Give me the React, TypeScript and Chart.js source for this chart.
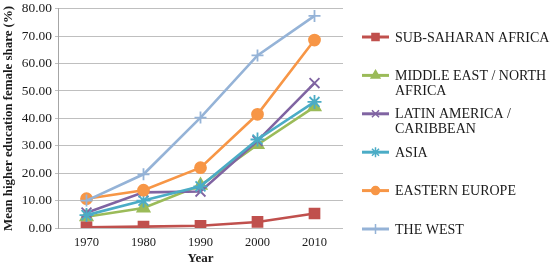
import React, { useEffect, useRef } from "react";
import { Chart, registerables } from "chart.js";
import { drawPoint } from "chart.js/helpers";

Chart.register(...registerables);

const YEARS = ["1970", "1980", "1990", "2000", "2010"];
const SUB_SAHARAN = [0.3, 0.5, 0.8, 2.2, 5.3];
const MIDDLE_EAST = [4.1, 7.3, 15.6, 30.4, 44.2];
const LATIN_AMERICA = [5.6, 13.0, 13.3, 31.8, 52.9];
const ASIA = [4.7, 10.0, 15.2, 32.3, 46.0];
const EASTERN_EUROPE = [10.7, 13.8, 22.0, 41.5, 68.6];
const THE_WEST = [10.0, 19.6, 40.3, 63.0, 77.4];

const SERIES_NAMES = [
  "SUB-SAHARAN AFRICA",
  "MIDDLE EAST / NORTH AFRICA",
  "LATIN AMERICA / CARIBBEAN",
  "ASIA",
  "EASTERN EUROPE",
  "THE WEST",
];
const SERIES_VALUES = [SUB_SAHARAN, MIDDLE_EAST, LATIN_AMERICA, ASIA, EASTERN_EUROPE, THE_WEST];
const SERIES_COLORS = ["#C0504D", "#9BBB59", "#8064A2", "#4BACC6", "#F79646", "#95B3D7"];
const POINT_STYLES = ["rect", "triangle", "crossRot", "star", "circle", "cross"];
const POINT_RADII = [7, 7, 7, 7, 5.5, 6];
const LEGEND_RADII = [5, 5, 5, 5, 4, 5];

const Y_TITLE = "Mean higher education female share (%)";
const X_TITLE = "Year";

const FONT = "'Liberation Serif', 'Times New Roman', serif";

function wrap(ctx: CanvasRenderingContext2D, text: string, maxW: number): string[] {
  const words = text.split(" ");
  const lines: string[] = [];
  let cur = "";
  for (const w of words) {
    const t = cur ? cur + " " + w : w;
    if (cur && ctx.measureText(t).width > maxW) {
      lines.push(cur);
      cur = w;
    } else cur = t;
  }
  if (cur) lines.push(cur);
  return lines;
}

const legendPlugin = {
  id: "sideLegend",
  afterDraw(chart: any) {
    const ctx: CanvasRenderingContext2D = chart.ctx;
    ctx.save();
    ctx.font = `14px ${FONT}`;
    ctx.textBaseline = "middle";
    ctx.textAlign = "left";
    const x0 = 362;
    const x1 = 389;
    const tx = 395;
    const startY = 37;
    const step = 38.4;
    SERIES_NAMES.forEach((name, i) => {
      const y = startY + i * step;
      const c = SERIES_COLORS[i];
      ctx.strokeStyle = c;
      ctx.lineWidth = 3;
      ctx.beginPath();
      ctx.moveTo(x0, y);
      ctx.lineTo(x1, y);
      ctx.stroke();
      ctx.fillStyle = c;
      ctx.lineWidth = 1.5;
      drawPoint(
        ctx,
        { pointStyle: POINT_STYLES[i], radius: LEGEND_RADII[i], rotation: 0, borderWidth: 1.5 } as any,
        (x0 + x1) / 2,
        y
      );
      ctx.fillStyle = "#1a1a1a";
      const lines = wrap(ctx, name, 160);
      lines.forEach((l, k) => ctx.fillText(l, tx, y + 1 + k * 15));
    });
    ctx.restore();
  },
};

export default function App() {
  const ref = useRef<HTMLCanvasElement | null>(null);
  useEffect(() => {
    if (!ref.current) return;
    const chart = new Chart(ref.current, {
      type: "line",
      data: {
        labels: YEARS,
        datasets: SERIES_NAMES.map((name, i) => ({
          label: name,
          data: SERIES_VALUES[i],
          borderColor: SERIES_COLORS[i],
          backgroundColor: SERIES_COLORS[i],
          pointBackgroundColor: SERIES_COLORS[i],
          pointBorderColor: SERIES_COLORS[i],
          pointStyle: POINT_STYLES[i],
          pointRadius: POINT_RADII[i],
          pointBorderWidth: 1.8,
          borderWidth: 2.6,
          tension: 0,
          order: SERIES_NAMES.length - i,
        })),
      },
      options: {
        animation: false,
        responsive: false,
        maintainAspectRatio: false,
        layout: { padding: { top: 0, right: 210, left: 1, bottom: 0 } },
        plugins: {
          legend: { display: false },
          tooltip: { enabled: false },
        },
        scales: {
          x: {
            offset: true,
            grid: { display: false, drawTicks: false },
            border: { display: false },
            ticks: { color: "#1a1a1a", font: { family: FONT, size: 12.5 }, padding: 7 },
            title: {
              display: true,
              text: X_TITLE,
              color: "#1a1a1a",
              font: { family: FONT, size: 13, weight: "bold" },
              padding: { top: 0, bottom: 1 },
            },
            afterFit: (s: any) => {
              s.height = 39;
            },
          },
          y: {
            min: 0,
            max: 80,
            grid: { color: "#BFBFBF", lineWidth: 1, tickLength: 3 },
            border: { display: true, color: "#A6A6A6", width: 1 },
            ticks: {
              stepSize: 10,
              color: "#1a1a1a",
              font: { family: FONT, size: 13.4 },
              padding: 3,
              callback: (v: any) => Number(v).toFixed(2),
            },
            title: {
              display: true,
              text: Y_TITLE,
              color: "#1a1a1a",
              font: { family: FONT, size: 12.9, weight: "bold" },
              padding: { top: 0, bottom: 3 },
            },
            afterFit: (s: any) => {
              s.width = 57;
              s.paddingTop = 7;
              s.paddingBottom = 0;
            },
          },
        },
      },
      plugins: [legendPlugin],
    });
    return () => chart.destroy();
  }, []);
  return (
    <div style={{ position: "absolute", left: 0, top: 0, width: 553, height: 267, background: "#fff" }}>
      <canvas ref={ref} width={553} height={267} />
    </div>
  );
}
